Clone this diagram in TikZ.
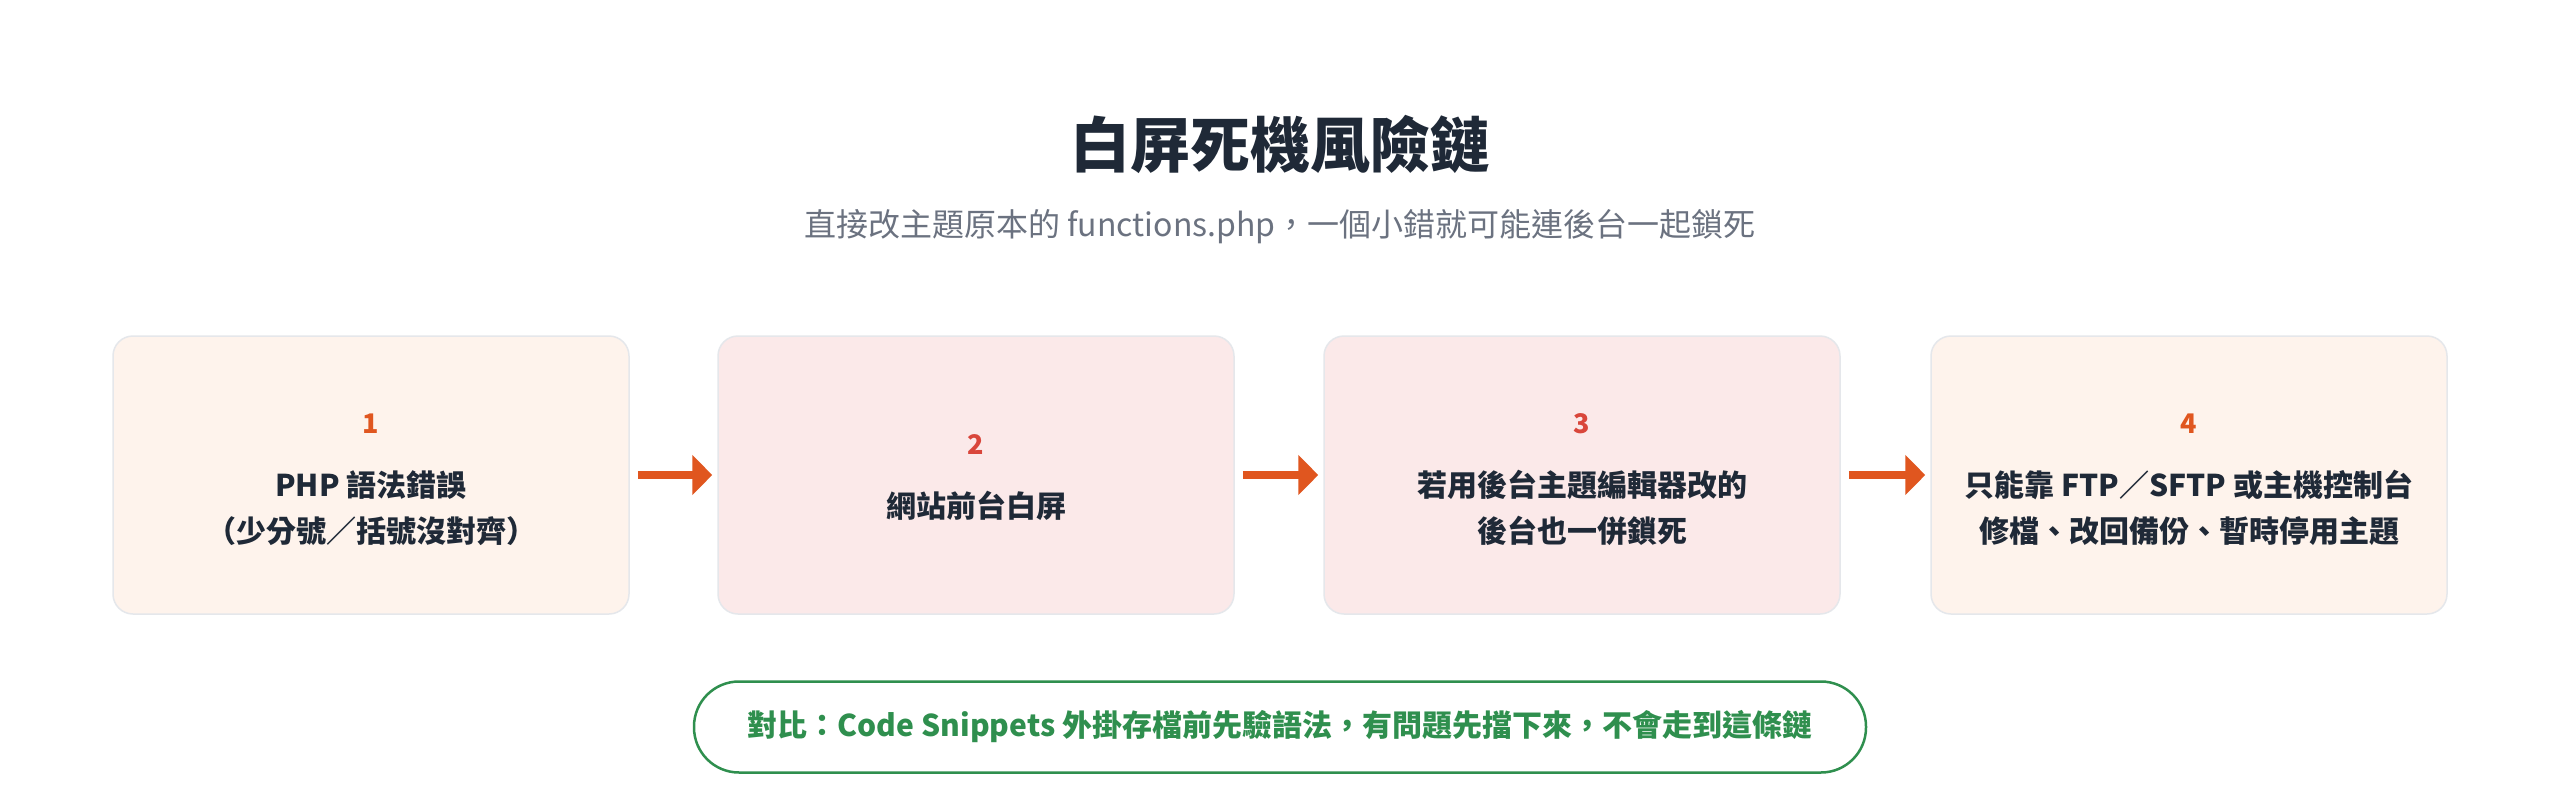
\documentclass[tikz,border=0pt]{standalone}
\usepackage{fontspec}
\setmainfont{Noto Sans CJK TC}
\usetikzlibrary{arrows.meta,calc}
\definecolor{ink}{HTML}{1F2937}
\definecolor{subgray}{HTML}{6B7280}
\definecolor{peach}{HTML}{FEF3EC}
\definecolor{rose}{HTML}{FBE9E9}
\definecolor{edge}{HTML}{E5E7EB}
\definecolor{orangeA}{HTML}{E0561F}
\definecolor{redA}{HTML}{D9463B}
\definecolor{greenA}{HTML}{2F8F4E}
\tikzset{
  x=1pt,y=-1pt,
  stepbox/.style={draw=edge,line width=1.5pt,rounded corners=20pt,minimum width=516pt,minimum height=278pt,inner sep=0pt},
  numlab/.style={font=\fontsize{27}{30}\selectfont\bfseries,inner sep=0pt},
  txtlab/.style={font=\fontsize{30}{46}\selectfont\bfseries,text=ink,align=center,inner sep=0pt},
  flow/.style={draw=orangeA,line width=8pt,-{Triangle[width=39pt,length=20pt]},shorten <=8pt,shorten >=5pt},
}
\begin{document}
\begin{tikzpicture}
\useasboundingbox[fill=white] (0,0) rectangle (2560,798);
\node[font=\fontsize{60}{66}\selectfont\bfseries,text=ink] (title) at (1280,144) {白屏死機風險鏈};
\node[font=\fontsize{32}{36}\selectfont,text=subgray] (sub) at (1280,227) {直接改主題原本的 functions.php，一個小錯就可能連後台一起鎖死};

\node[stepbox,fill=peach] (b1) at (371,475) {};
\node[stepbox,fill=rose] (b2) at (976,475) {};
\node[stepbox,fill=rose] (b3) at (1582,475) {};
\node[stepbox,fill=peach] (b4) at (2189,475) {};

\node[numlab,text=orangeA] (n1) at ($(b1.center)+(0,-51)$) {1};
\node[txtlab] (t1) at ($(b1.center)+(0,33)$) {PHP 語法錯誤\\（少分號／括號沒對齊）};
\node[numlab,text=redA] (n2) at ($(b2.center)+(0,-30)$) {2};
\node[txtlab] (t2) at ($(b2.center)+(0,31)$) {網站前台白屏};
\node[numlab,text=redA] (n3) at ($(b3.center)+(0,-51)$) {3};
\node[txtlab] (t3) at ($(b3.center)+(0,33)$) {若用後台主題編輯器改的\\後台也一併鎖死};
\node[numlab,text=orangeA] (n4) at ($(b4.center)+(0,-51)$) {4};
\node[txtlab] (t4) at ($(b4.center)+(0,33)$) {只能靠 FTP／SFTP 或主機控制台\\修檔、改回備份、暫時停用主題};

\draw[flow] (b1.east) -- (b2.west);
\draw[flow] (b2.east) -- (b3.west);
\draw[flow] (b3.east) -- (b4.west);

\node[draw=greenA,line width=2.5pt,fill=white,rounded corners=45pt,minimum width=1172pt,minimum height=91pt,
      font=\fontsize{30}{34}\selectfont\bfseries,text=greenA] (note) at (1280,727)
  {對比：Code Snippets 外掛存檔前先驗語法，有問題先擋下來，不會走到這條鏈};
\end{tikzpicture}
\end{document}
